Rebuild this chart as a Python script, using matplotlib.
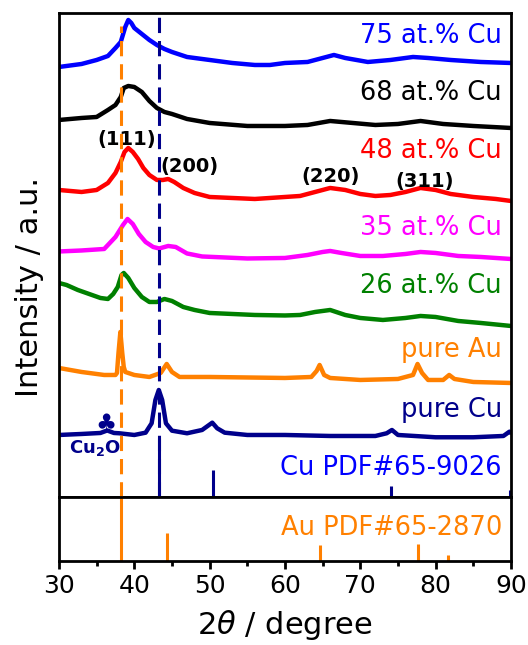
import matplotlib
matplotlib.use("Agg")
import matplotlib.pyplot as plt
from matplotlib.ticker import MultipleLocator

# Stacked XRD patterns (intensity already offset per sample, a.u.)
tt_75 = [30, 33, 35, 36.5, 37.5, 38.2, 38.8, 39.2, 39.6, 40, 41, 42, 43, 44, 45, 47, 50, 53,
         56, 58, 60, 63, 65, 66.5, 68, 71, 74, 77, 79, 82, 86, 90]
i_75 = [430, 433, 437, 441, 449, 455, 470, 477, 474, 469, 463, 457, 452, 448, 445, 440, 437, 434,
        432, 432, 434, 435, 439, 442, 439, 435, 437, 440, 439, 437, 435, 434]

tt_68 = [30, 33, 35, 36.5, 37.5, 38.2, 38.6, 39.2, 40, 41, 42, 43, 44, 45, 47, 50, 55, 60, 63,
         66, 69, 72, 75, 78, 81, 85, 90]
i_68 = [377, 379, 380, 387, 392, 400, 409, 411, 410, 405, 396, 389, 385, 383, 378, 374, 371, 371, 372,
        376, 374, 372, 373, 376, 373, 371, 369]

tt_48 = [30, 33, 35, 36.5, 37.5, 38.2, 38.7, 39.2, 39.8, 40.5, 41.2, 42, 43, 43.8, 44.5, 45.3, 46.5,
         48, 50, 53, 56, 60, 62, 64, 66, 68, 70, 72, 74, 76, 78, 80, 82, 85, 88, 90]
i_48 = [307, 305, 307, 314, 324, 335, 345, 349, 345, 338, 329, 322, 317, 317, 318, 315, 309,
        304, 300, 299, 298, 300, 301, 305, 309, 307, 303, 301, 302, 305, 309, 307, 303, 300, 298, 296]

tt_35 = [30, 33, 36, 37.5, 38.5, 39.1, 39.8, 40.6, 41.5, 42.5, 43.3, 44.5, 45.5, 47, 49, 55, 60,
         63, 65, 66, 67.5, 70, 73, 76, 78, 80, 83, 86, 90]
i_35 = [245.5, 246.5, 248, 260, 272, 278, 273, 263, 255, 250, 248.5, 251, 250, 243.5, 240.5, 238.5, 239,
        242, 245, 246, 244, 241, 241, 243, 245, 244, 241, 240, 238]

tt_26 = [30, 31, 32.5, 34, 35.5, 36.5, 37.2, 37.8, 38.3, 38.6, 39.2, 40, 41, 42, 43, 44, 45, 46.5,
         48, 50, 53, 56, 60, 62, 64, 66, 68, 70, 73, 76, 78, 80, 83, 86, 90]
i_26 = [214, 212, 207, 203, 199, 198, 203, 210, 222, 224, 219, 209, 200, 195, 195, 198, 196, 190,
        187, 184, 183, 182, 181.5, 182, 185, 187, 182, 179, 177, 179, 181, 180, 176, 174, 171]

tt_au = [30, 33, 36, 37.5, 37.7, 37.9, 38.15, 38.4, 38.6, 38.8, 40, 42, 43.5, 44.3, 45, 46, 50, 60,
         63.5, 64.2, 64.6, 65.2, 66, 70, 75, 77, 77.6, 78.2, 79, 81, 81.8, 82.5, 85, 90]
i_au = [129, 125, 122, 122, 124, 144, 165, 144, 130, 125, 122, 120, 124, 133, 125, 120, 120, 119,
        120, 126, 132, 122, 119, 117, 118, 122, 133, 124, 117, 117, 122, 118, 115, 114]

tt_cu = [30, 33, 35.5, 36.4, 37.3, 38, 40, 41.5, 42.3, 42.8, 43.25, 43.7, 44.2, 45, 47, 49, 50.35,
         51, 52, 55, 60, 66, 72, 73.5, 74.2, 75, 80, 85, 89, 89.8, 90]
i_cu = [62, 63, 64, 66.5, 64, 63.7, 62, 64.3, 73.7, 97, 107, 97, 73.7, 66.3, 63.7, 67, 74.3,
        68.7, 64.3, 62, 62, 61, 61, 63.7, 67, 62, 59.7, 59.7, 61, 65.3, 64.3]

# Reference patterns (relative intensity, %)
cu_pdf_pos = [43.3, 50.4, 74.1, 89.9]
cu_pdf_int = [100, 46, 19, 12]
au_pdf_pos = [38.2, 44.4, 64.6, 77.6, 81.7]
au_pdf_int = [100, 44, 25, 27, 9]

samples = [
    (tt_75, i_75, "#0000ff", "75 at.% Cu", 454),
    (tt_68, i_68, "black", "68 at.% Cu", 397),
    (tt_48, i_48, "#ff0000", "48 at.% Cu", 339),
    (tt_35, i_35, "#ff00ff", "35 at.% Cu", 262),
    (tt_26, i_26, "#008000", "26 at.% Cu", 204),
    (tt_au, i_au, "#ff8000", "pure Au", 140),
    (tt_cu, i_cu, "#00008b", "pure Cu", 80),
]

peak_labels = ["(111)", "(200)", "(220)", "(311)"]
peak_x = [39.0, 47.3, 66.1, 78.6]
peak_y = [352, 325, 315, 310]

orange = "#ff8000"
navy = "#00008b"

fig = plt.figure(figsize=(5.28, 6.45), dpi=100)
ax = fig.add_axes([0.1117, 0.2295, 0.856, 0.7496])
ax2 = fig.add_axes([0.1117, 0.1302, 0.856, 0.0992])

for a in (ax, ax2):
    for s in a.spines.values():
        s.set_linewidth(2.0)
    a.set_xlim(30, 90)
    a.set_yticks([])

ax.set_ylim(0, 483.5)
ax.tick_params(axis="x", which="both", bottom=False, labelbottom=False)

for tt, it, col, lab, ylab in samples:
    ax.plot(tt, it, color=col, lw=3.2, solid_joinstyle="round", solid_capstyle="round")
    ax.text(88.8, ylab, lab, color=col, fontsize=18.5, ha="right", va="baseline")

# Cu reference sticks
cu_scale = 59 / 100
ax.vlines(cu_pdf_pos, 0, [v * cu_scale for v in cu_pdf_int], color=navy, lw=2.2)
ax.text(88.8, 22, "Cu PDF#65-9026", color="#0000ff", fontsize=18.5, ha="right", va="baseline")

# guide lines through Au(111) and Cu(111)
ax.axvline(38.2, ymin=0, ymax=0.975, color=orange, lw=2.2, dashes=(5, 2.6), zorder=4)
ax.axvline(43.3, ymin=0, ymax=0.995, color=navy, lw=2.2, dashes=(5, 2.6), zorder=4)

for lab, x, y in zip(peak_labels, peak_x, peak_y):
    ax.text(x, y, lab, fontsize=14, fontweight="bold", ha="center", va="baseline")

ax.text(36.3, 73, "\u2663", color=navy, fontsize=17, ha="center", va="center")
ax.text(34.8, 49, r"Cu$_\mathbf{2}$O", color=navy, fontsize=13, fontweight="bold",
        ha="center", va="center")

# Au reference sticks
ax2.set_ylim(0, 100)
ax2.vlines(au_pdf_pos, 0, au_pdf_int, color=orange, lw=2.2)
ax2.text(88.8, 41, "Au PDF#65-2870", color=orange, fontsize=18.5, ha="right", va="baseline")

ax2.xaxis.set_major_locator(MultipleLocator(10))
ax2.xaxis.set_minor_locator(MultipleLocator(5))
ax2.tick_params(axis="x", which="major", direction="out", length=5.5, width=2, labelsize=18, pad=4)
ax2.tick_params(axis="x", which="minor", direction="out", length=3.5, width=2)
ax2.set_xlabel(r"2$\theta$ / degree", fontsize=22, labelpad=7)

fig.text(0.056, 0.555, "Intensity / a.u.", fontsize=22, rotation=90, ha="center", va="center")

fig.savefig("out.png", dpi=100)
